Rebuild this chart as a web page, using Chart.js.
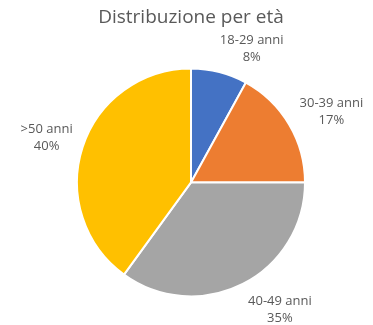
<!DOCTYPE html>
<html>
<head>
<meta charset="utf-8">
<script src="https://cdn.jsdelivr.net/npm/chart.js@4"></script>
<style>
  html, body { margin: 0; padding: 0; background: #fff; }
  #wrap { width: 373px; height: 325px; }
</style>
</head>
<body>
<div id="wrap"><canvas id="pie"></canvas></div>
<script>
// age groups and share of respondents (%)
const ageGroups = ['18-29 anni', '30-39 anni', '40-49 anni', '>50 anni'];
const shares = [8, 17, 35, 40];
const sliceColors = ['#4472C4', '#ED7D31', '#A5A5A5', '#FFC000'];

// best-fit style nudges for the outside labels (degrees, px beyond the rim)
const labelTurn = [10, 4, -8, -1];
const labelGap = [33, 43, 41, 37];

const outsideLabels = {
    id: 'outsideLabels',
    afterDatasetsDraw(chart) {
        const ctx = chart.ctx;
        const meta = chart.getDatasetMeta(0);
        ctx.save();
        ctx.fillStyle = '#595959';
        ctx.font = '13px "Open Sans", sans-serif';
        ctx.textAlign = 'center';
        ctx.textBaseline = 'middle';
        meta.data.forEach((arc, i) => {
            const p = arc.getProps(['x', 'y', 'startAngle', 'endAngle', 'outerRadius']);
            const mid = (p.startAngle + p.endAngle) / 2 + labelTurn[i] * Math.PI / 180;
            const d = p.outerRadius + labelGap[i];
            const x = p.x + Math.cos(mid) * d;
            const y = p.y + Math.sin(mid) * d;
            ctx.fillText(ageGroups[i], x, y - 8.5);
            ctx.fillText(shares[i] + '%', x, y + 8.5);
        });
        ctx.restore();
    }
};

new Chart(document.getElementById('pie'), {
    type: 'pie',
    data: {
        labels: ageGroups,
        datasets: [{
            data: shares,
            backgroundColor: sliceColors,
            borderColor: '#ffffff',
            borderWidth: 2,
            hoverOffset: 0,
            radius: 114
        }]
    },
    options: {
        responsive: true, maintainAspectRatio: false,
        animation: false,
        layout: { padding: { left: 9, right: 0, top: 0, bottom: 2 } },
        plugins: {
            legend: { display: false },
            tooltip: { enabled: false },
            title: {
                display: true,
                text: 'Distribuzione per età',
                color: '#595959',
                font: { family: '"Open Sans", sans-serif', size: 19, weight: 'normal' },
                padding: { top: 6, bottom: 13 }
            }
        }
    },
    plugins: [outsideLabels]
});
</script>
</body>
</html>
